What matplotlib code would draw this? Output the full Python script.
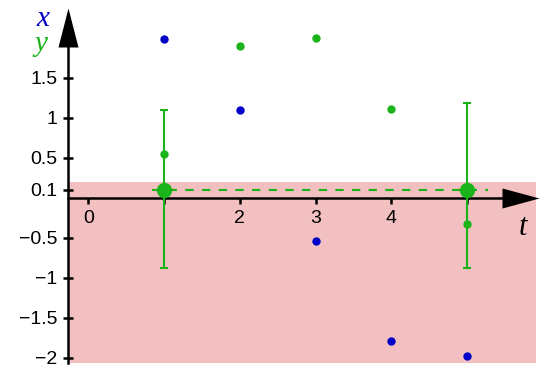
import matplotlib
matplotlib.use('Agg')
import matplotlib.pyplot as plt

# ---- data ----
t = [1, 2, 3, 4, 5]
x_vals = [1.98, 1.10, -0.54, -1.79, -1.98]
y_vals = [0.55, 1.89, 2.00, 1.11, -0.33]
mean_t = [1, 5]
mean_y = [0.1, 0.1]
err_low = [0.975, 0.98]
err_high = [0.99, 1.08]
threshold = 0.1
shade_top = 0.2
xticks = [0, 1, 2, 3, 4, 5]
xticklabels = ['0', '', '2', '3', '4', '']
yticks = [-2, -1.5, -1, -0.5, 0.1, 0.5, 1, 1.5]
yticklabels = ['−2', '−1.5', '−1', '−0.5', '0.1', '0.5', '1', '1.5']

blue = '#0000c8'
green = '#1ab41a'
shade = '#f2c0c0'

plt.rcParams['font.family'] = ['Liberation Sans', 'DejaVu Sans']

fig = plt.figure(figsize=(5.5, 3.78), dpi=100)
ax = fig.add_axes([0, 0, 1, 1])
ax.set_xlim(-88.5 / 75.7, (550 - 88.5) / 75.7)
ax.set_ylim(-2.254, 2.471)

x_left = (68 - 88.5) / 75.7
for s in ['top', 'right']:
    ax.spines[s].set_visible(False)
ax.spines['left'].set_position(('data', x_left))
ax.spines['bottom'].set_position(('data', 0))
ax.spines['left'].set_bounds(-2.07, 2.0)
ax.spines['bottom'].set_bounds(x_left, 5.6)
for s in ['left', 'bottom']:
    ax.spines[s].set_linewidth(1.8)
    ax.spines[s].set_zorder(2.5)

# arrow heads
ax.plot([x_left], [1.884], marker=[(-10, 0), (10, 0), (0, 39), (-10, 0)],
        ms=56.2, color='black', mew=0, clip_on=False, zorder=3)
ax.plot([(502 - 88.5) / 75.7], [0], marker=[(0, -10), (0, 10), (37, 0), (0, -10)],
        ms=53.3, color='black', mew=0, clip_on=False, zorder=3)

ax.set_xticks(xticks)
ax.set_xticklabels(xticklabels)
ax.set_yticks(yticks)
ax.set_yticklabels(yticklabels)
ax.tick_params(axis='x', direction='out', length=4, width=1.8, pad=5, labelsize=14)
ax.tick_params(axis='y', direction='inout', length=7, width=1.8, pad=4, labelsize=14)

# shaded region
ax.fill_between([x_left, (536 - 88.5) / 75.7], -2.07, shade_top, color=shade, lw=0, zorder=0)

# threshold dashed line
ax.plot([(152 - 88.5) / 75.7, (488 - 88.5) / 75.7], [threshold, threshold], color=green, lw=1.5,
        dashes=(4, 4), zorder=3)

# points
ax.plot(t, x_vals, 'o', color=blue, ms=5, zorder=4)
ax.plot(t, y_vals, 'o', color=green, ms=5, zorder=4)

# mean with error bars
ax.errorbar(mean_t, mean_y, yerr=[err_low, err_high], fmt='o', ms=10,
            color=green, ecolor=green, elinewidth=1.5, capsize=3, capthick=1.5,
            zorder=5)

# axis labels
fig.text(43 / 550, 1 - 19 / 378, 'x', color=blue, fontsize=21,
         family='Liberation Serif', style='italic', ha='center', va='center')
fig.text(41 / 550, 1 - 44 / 378, 'y', color=green, fontsize=21,
         family='Liberation Serif', style='italic', ha='center', va='center')
fig.text(523 / 550, 1 - 227 / 378, 't', color='black', fontsize=22,
         family='Liberation Serif', style='italic', ha='center', va='center')

fig.savefig('out.png', dpi=100)
